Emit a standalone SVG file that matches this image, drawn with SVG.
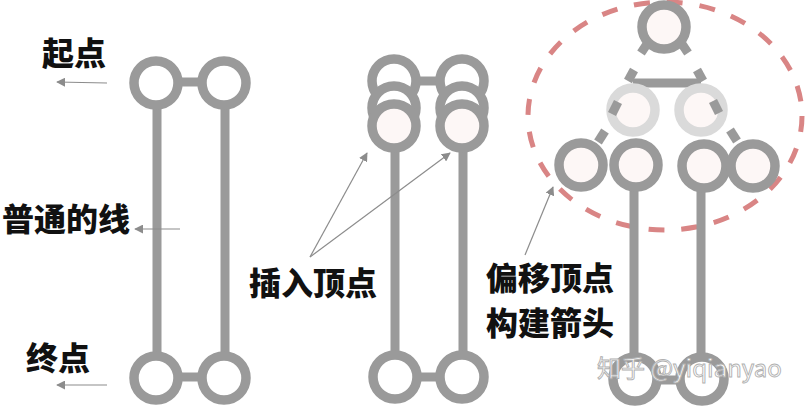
<svg xmlns="http://www.w3.org/2000/svg" width="805" height="406" viewBox="0 0 805 406">
<defs>
<marker id="ah" viewBox="0 0 10 10" refX="9" refY="5" markerWidth="9" markerHeight="9" markerUnits="userSpaceOnUse" orient="auto">
<path d="M0,0 L10,5 L0,10 z" fill="#8c8c8c"/>
</marker>
<style>
.ring{fill:#ffffff;stroke:#9a9a9a;stroke-width:9.5}
.ringp{fill:#fdf7f6;stroke:#9a9a9a;stroke-width:9.5}
.ringl{fill:#fdf7f6;stroke:#dadada;stroke-width:9.5}
.bar{stroke:#9a9a9a;stroke-width:9;fill:none}
.tab{stroke:#9a9a9a;stroke-width:9;fill:none;stroke-linecap:butt}
.lbl{font-family:"Noto Sans CJK SC","Noto Sans",sans-serif;font-weight:900;font-size:32px;fill:#111111}
.ptr{stroke:#8c8c8c;stroke-width:1.2;fill:none;marker-end:url(#ah)}
.wm{font-family:"Noto Sans CJK SC","Noto Sans",sans-serif;font-size:24px;fill:#ffffff;stroke:#b0b0b0;stroke-width:0.9}
</style>
</defs>
<rect width="805" height="406" fill="#ffffff"/>

<g id="region-dashed">
<ellipse cx="665" cy="116" rx="137" ry="114" fill="none" stroke="#d98585" stroke-width="5" stroke-dasharray="16 17"/>
</g>

<g id="connectors">
<line class="bar" x1="157" y1="100" x2="157" y2="360"/>
<line class="bar" x1="225" y1="100" x2="225" y2="360"/>
<line class="bar" x1="175" y1="82" x2="205" y2="82"/>
<line class="bar" x1="175" y1="377" x2="205" y2="377"/>
<line class="bar" x1="395" y1="140" x2="395" y2="360"/>
<line class="bar" x1="463" y1="140" x2="463" y2="360"/>
<line class="bar" x1="414" y1="81" x2="444" y2="81"/>
<line class="bar" x1="414" y1="377" x2="444" y2="377"/>
<line class="bar" x1="634" y1="180" x2="634" y2="360"/>
<line class="bar" x1="701" y1="180" x2="701" y2="360"/>
<line class="bar" x1="652" y1="380" x2="684" y2="380"/>
<line class="bar" x1="633" y1="83" x2="701" y2="83"/>
</g>

<g id="left-pair">
<circle class="ring" cx="156" cy="83" r="22"/>
<circle class="ring" cx="224" cy="83" r="22"/>
<circle class="ring" cx="156" cy="378" r="22"/>
<circle class="ring" cx="224" cy="378" r="22"/>
</g>

<g id="middle-pair">
<circle class="ring" cx="394" cy="81" r="22"/>
<circle class="ring" cx="462" cy="81" r="22"/>
<circle class="ring" cx="394" cy="108" r="22"/>
<circle class="ring" cx="462" cy="108" r="22"/>
<circle class="ringp" cx="394" cy="126" r="22"/>
<circle class="ringp" cx="462" cy="126" r="22"/>
<circle class="ring" cx="395" cy="377" r="22"/>
<circle class="ring" cx="462" cy="377" r="22"/>
</g>

<g id="arrow-build">
<circle class="ringp" cx="664" cy="27" r="22"/>
<line class="tab" x1="647" y1="44" x2="641" y2="53"/>
<line class="tab" x1="682" y1="44" x2="688" y2="53"/>
<line class="tab" x1="628" y1="81" x2="634" y2="70"/>
<line class="tab" x1="703" y1="81" x2="697" y2="70"/>
<circle class="ringl" cx="633" cy="110" r="22"/>
<circle class="ringl" cx="701" cy="110" r="22"/>
<line class="tab" x1="618" y1="102" x2="612" y2="114"/>
<line class="tab" x1="713" y1="101" x2="719" y2="113"/>
<circle class="ringp" cx="581" cy="165" r="22"/>
<circle class="ringp" cx="636" cy="165" r="22"/>
<circle class="ringp" cx="704" cy="166" r="22"/>
<circle class="ringp" cx="753" cy="166" r="22"/>
<line class="tab" x1="605" y1="131" x2="598" y2="142"/>
<line class="tab" x1="730" y1="130" x2="737" y2="141"/>
<circle class="ring" cx="635" cy="379" r="22"/>
<circle class="ring" cx="702" cy="379" r="22"/>
</g>

<g id="pointers">
<line class="ptr" x1="107" y1="83" x2="57" y2="82"/>
<line class="ptr" x1="180" y1="229" x2="135" y2="229"/>
<line class="ptr" x1="107" y1="385" x2="57" y2="385"/>
<line class="ptr" x1="310" y1="257" x2="367" y2="153"/>
<line class="ptr" x1="310" y1="257" x2="450" y2="153"/>
<line class="ptr" x1="525" y1="255" x2="553" y2="187"/>
</g>

<g id="labels">
<text class="lbl" x="42" y="65">起点</text>
<text class="lbl" x="2" y="231">普通的线</text>
<text class="lbl" x="26" y="370">终点</text>
<text class="lbl" x="249" y="295">插入顶点</text>
<text class="lbl" x="486" y="290">偏移顶点</text>
<text class="lbl" x="486" y="335">构建箭头</text>
</g>

<g id="watermark">
<text class="wm" x="597" y="377">知乎 @yiqianyao</text>
</g>
</svg>
